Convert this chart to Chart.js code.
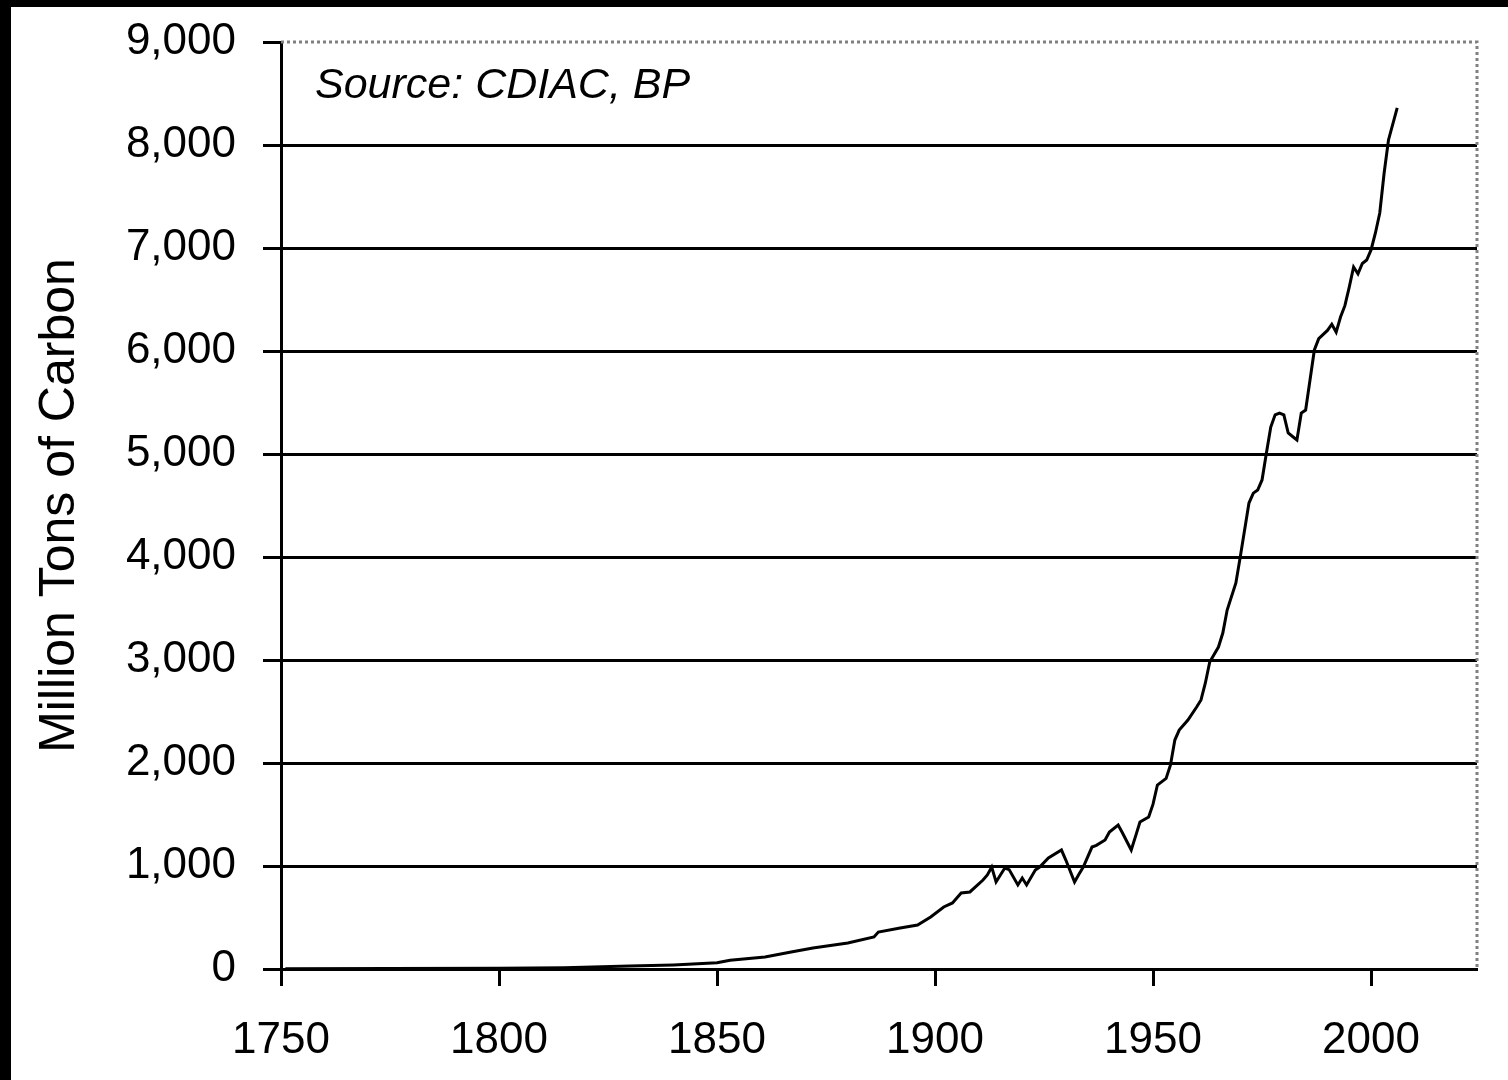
<!DOCTYPE html>
<html>
<head>
<meta charset="utf-8">
<title>Carbon emissions</title>
<script src="https://cdn.jsdelivr.net/npm/chart.js@4/dist/chart.umd.min.js"></script>
<style>
html, body { margin: 0; padding: 0; background: #000; }
#wrap { position: absolute; left: 11px; top: 7px; width: 1497px; height: 1073px; background: #fff; }
</style>
</head>
<body>
<div id="wrap"><canvas id="chart-area" width="1497" height="1073"></canvas></div>
<script>
var years = [1751, 1775, 1800, 1815, 1830, 1840, 1850, 1853, 1861, 1867, 1872, 1880, 1886, 1887, 1892, 1896, 1899,
    1902, 1904, 1906, 1908, 1911, 1912, 1913, 1914, 1916, 1917, 1919, 1920, 1921, 1923, 1924, 1926, 1929, 1930,
    1932, 1933, 1934, 1936, 1937, 1939, 1940, 1942, 1943, 1945, 1946, 1947, 1949, 1950, 1951, 1953, 1954, 1955,
    1956, 1958, 1960, 1961, 1962, 1963, 1965, 1966, 1967, 1969, 1970, 1971, 1972, 1973, 1974, 1975, 1976, 1977,
    1978, 1979, 1980, 1981, 1982, 1983, 1984, 1985, 1986, 1987, 1988, 1990, 1991, 1992, 1993, 1994, 1995, 1996,
    1997, 1998, 1999, 2000, 2001, 2002, 2003, 2004, 2006];
var carbon = [3, 5, 8, 13, 28, 40, 60, 85, 117, 165, 204, 252, 311, 359, 398, 427, 505,
    602, 641, 738, 748, 864, 913, 990, 845, 980, 965, 816, 883, 816, 961, 990, 1078, 1155, 1058,
    845, 920, 990, 1184, 1200, 1252, 1330, 1398, 1320, 1155, 1290, 1427, 1476, 1600, 1786, 1850, 1981, 2223,
    2320, 2417, 2544, 2612, 2777, 2981, 3126, 3262, 3485, 3748, 4000, 4262, 4524, 4620, 4650, 4748, 5010, 5262,
    5380, 5398, 5380, 5204, 5170, 5136, 5398, 5427, 5718, 6010, 6120, 6200, 6260, 6184, 6330, 6440, 6620, 6815,
    6750, 6850, 6883, 6981, 7146, 7340, 7728, 8049, 8360];
var yTicks = [0, 1000, 2000, 3000, 4000, 5000, 6000, 7000, 8000, 9000];
var xTicks = [1750, 1800, 1850, 1900, 1950, 2000];
var sourceNote = 'Source: CDIAC, BP';

var points = years.map(function(y, i) { return { x: y, y: carbon[i] }; });

var fontFam = '"Liberation Sans", Arial, sans-serif';

// dotted grey frame on top and right of plot area
var frame = {
    id: 'frame',
    beforeDatasetsDraw: function(chart) {
        var a = chart.chartArea, c = chart.ctx;
        c.save();
        c.strokeStyle = '#808080';
        c.lineWidth = 3;
        c.setLineDash([3, 3]);
        c.beginPath();
        c.moveTo(a.left, a.top);
        c.lineTo(a.right, a.top);
        c.lineTo(a.right, a.bottom);
        c.stroke();
        c.restore();
    },
    afterDraw: function(chart) {
        var a = chart.chartArea, c = chart.ctx;
        c.save();
        c.fillStyle = '#000';
        c.font = 'italic 43px ' + fontFam;
        c.textBaseline = 'alphabetic';
        c.fillText(sourceNote, a.left + 34, a.top + 56);
        c.restore();
    }
};

var config = {
    type: 'line',
    data: {
        datasets: [{
            data: points,
            borderColor: '#000',
            borderWidth: 3,
            pointRadius: 0,
            tension: 0,
            fill: false
        }]
    },
    options: {
        responsive: false,
        animation: false,
        layout: { padding: { top: 35, right: 31, left: 0, bottom: 0 } },
        plugins: { legend: { display: false }, tooltip: { enabled: false } },
        scales: {
            x: {
                type: 'linear',
                min: 1750,
                max: 2024.3,
                afterBuildTicks: function(s) { s.ticks = xTicks.map(function(v) { return { value: v }; }); },
                afterFit: function(s) {
                    s.height = 111;
                    s.paddingLeft = 0; s.paddingRight = 0;
                },
                ticks: {
                    color: '#000',
                    padding: 28,
                    maxRotation: 0,
                    font: { family: fontFam, size: 44 },
                    callback: function(v) { return String(v); }
                },
                grid: { drawOnChartArea: false, tickLength: 17, tickColor: '#000', tickWidth: 3 },
                border: { color: '#000', width: 3 }
            },
            y: {
                min: 0,
                max: 9000,
                afterBuildTicks: function(s) { s.ticks = yTicks.map(function(v) { return { value: v }; }); },
                afterFit: function(s) {
                    s.width = 270;
                    s.paddingTop = 0; s.paddingBottom = 0;
                },
                title: {
                    display: true,
                    text: 'Million Tons of Carbon',
                    color: '#000',
                    font: { family: fontFam, size: 50 },
                    padding: { top: 19, bottom: 0 }
                },
                ticks: {
                    color: '#000',
                    padding: 27,
                    font: { family: fontFam, size: 44 },
                    callback: function(v) { return v.toLocaleString('en-US'); }
                },
                grid: {
                    color: function(ctx) { return ctx.tick && ctx.tick.value === 9000 ? 'rgba(0,0,0,0)' : '#000'; },
                    lineWidth: 3,
                    tickLength: 18,
                    tickColor: '#000',
                    tickWidth: 3
                },
                border: { color: '#000', width: 3 }
            }
        }
    },
    plugins: [frame]
};

var ctx = document.getElementById('chart-area').getContext('2d');
window.myLine = new Chart(ctx, config);
</script>
</body>
</html>
